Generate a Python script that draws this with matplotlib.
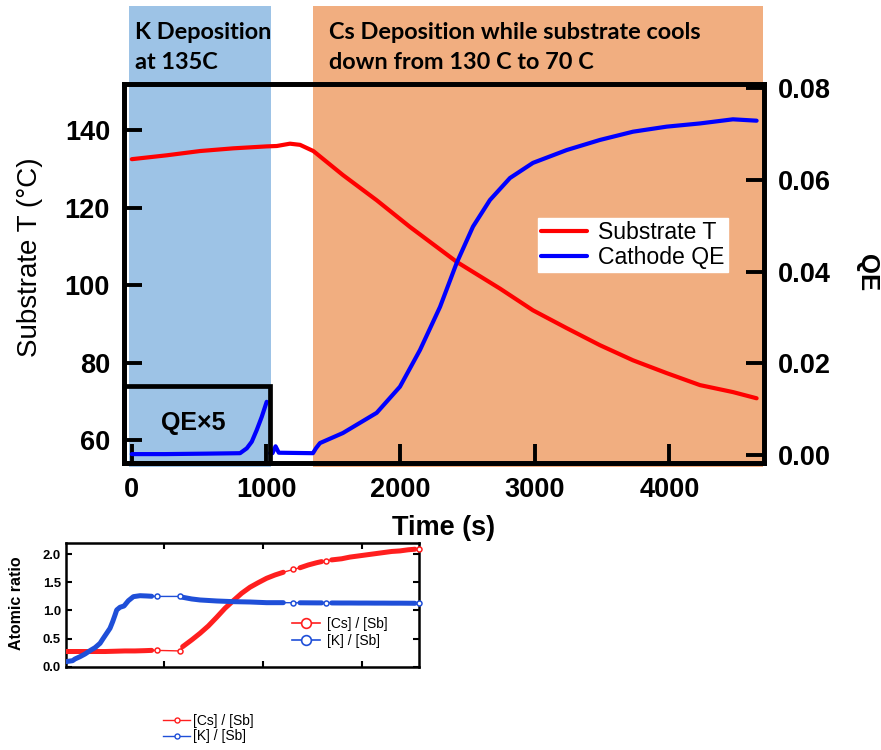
import numpy as np
import matplotlib
matplotlib.use('Agg')
import matplotlib.pyplot as plt
from matplotlib.lines import Line2D
from matplotlib.patches import Rectangle

plt.rcParams['font.family'] = ['Liberation Sans', 'DejaVu Sans']

# ---------------- main chart data ----------------
temp_time = [2, 262, 509, 757, 1005, 1080, 1178, 1253, 1352, 1572, 1823, 2071,
             2418, 2740, 2985, 3236, 3483, 3729, 3979, 4227, 4472, 4648]
temp_c = [132.5, 133.5, 134.6, 135.3, 135.8, 135.9, 136.5, 136.2, 134.6, 128.4, 121.9, 115.0,
          106.0, 99.1, 93.5, 88.9, 84.5, 80.6, 77.3, 74.2, 72.4, 70.8]

qe_time = [1030, 1048, 1071, 1095, 1349, 1372, 1401, 1572, 1823, 1996, 2145, 2294, 2418,
           2539, 2665, 2814, 2985, 3236, 3483, 3729, 3979, 4227, 4472, 4648]
qe_val = [0.0004, 0.0004, 0.0019, 0.0005, 0.0004, 0.0015, 0.0026, 0.0048, 0.0092, 0.0149,
          0.0229, 0.0323, 0.0419, 0.0498, 0.0556, 0.0604, 0.0637, 0.0665, 0.0687, 0.0705,
          0.0716, 0.0723, 0.0732, 0.0729]

# K-deposition QE shown x5 in the inset box
qe5_time = [2, 249, 554, 807, 857, 894, 931, 968, 1005]
qe5_val = [0.0002, 0.0002, 0.0003, 0.0004, 0.00146, 0.0029, 0.00545, 0.0083, 0.0116]

time_ticks = [0, 1000, 2000, 3000, 4000]
temp_ticks = [60, 80, 100, 120, 140]
qe_ticks = [0.00, 0.02, 0.04, 0.06, 0.08]

k_dep_window = (-19, 1037)
cs_dep_window = (1349, 4695)
qe5_box = (1030, 0.01504)      # right edge (time) and top (QE) of the x5 box

# ---------------- atomic ratio data ----------------
cs_x = [0, 100, 200, 300, 400, 500, 600, 700, 800, 871, 922, 1158,
        1185, 1276, 1361, 1445, 1530, 1614, 1698, 1783, 1867, 1951, 2036, 2121, 2205,
        2306, 2374, 2458, 2543, 2593, 2637,
        2695, 2796, 2880, 2965, 3049, 3134, 3218, 3303, 3387, 3471, 3539, 3583]
cs_ratio = [0.27, 0.27, 0.27, 0.27, 0.27, 0.275, 0.28, 0.28, 0.285, 0.29, 0.29, 0.28,
            0.356, 0.475, 0.594, 0.724, 0.879, 1.039, 1.174, 1.306, 1.413, 1.495, 1.573, 1.632, 1.68,
            1.73, 1.76, 1.81, 1.85, 1.87, 1.88,
            1.90, 1.92, 1.95, 1.97, 1.99, 2.01, 2.03, 2.05, 2.06, 2.08, 2.09, 2.09]

k_x = [0, 70, 94, 145, 196, 246, 297, 348, 381, 415, 449, 476, 500, 517, 550, 591,
       635, 686, 753, 821, 871, 922, 1158,
       1185, 1276, 1361, 1530, 1698, 1867, 2036, 2205,
       2306, 2374, 2458, 2543, 2593, 2637,
       2695, 2796, 2880, 2965, 3049, 3134, 3218, 3303, 3387, 3471, 3539, 3583]
k_ratio = [0.089, 0.107, 0.137, 0.178, 0.226, 0.285, 0.338, 0.416, 0.505, 0.594, 0.683,
           0.801, 0.920, 1.009, 1.057, 1.080, 1.174, 1.246, 1.263, 1.258, 1.253, 1.25, 1.25,
           1.235, 1.205, 1.187, 1.169, 1.157, 1.151, 1.139, 1.139,
           1.138, 1.137, 1.136, 1.135, 1.135, 1.135,
           1.134, 1.133, 1.133, 1.132, 1.132, 1.131, 1.131, 1.130, 1.130, 1.129, 1.128, 1.128]

ratio_ticks = [0.0, 0.5, 1.0, 1.5, 2.0]
ratio_xticks = [1000, 2000, 3000]
sparse_x = [922, 1158, 2306, 2637, 3583]   # samples drawn as separate open markers

# ---------------- styling ----------------
RED = '#ff0000'
BLUE = '#0000ff'
K_COLOR = '#9dc3e6'
CS_COLOR = '#f1ae80'
R2 = '#ff1f1f'
B2 = '#1f4fd8'

W, H = 881, 750
fig = plt.figure(figsize=(W / 100, H / 100), dpi=100)


def box(l, t, r, b):
    return [l / W, 1 - b / H, (r - l) / W, (b - t) / H]


ax = fig.add_axes(box(124, 84, 764, 463))
ax2 = ax.twinx()

ax.set_xlim(-56, 4703)
ax.set_ylim(54.1, 151.9)
ax2.set_ylim(-0.00174, 0.0809)

# deposition windows (extend above the plot frame)
ax.axvspan(*k_dep_window, ymin=-0.011, ymax=1.206, color=K_COLOR, lw=0, clip_on=False, zorder=0)
ax.axvspan(*cs_dep_window, ymin=-0.011, ymax=1.206, color=CS_COLOR, lw=0, clip_on=False, zorder=0)

l1, = ax.plot(temp_time, temp_c, color=RED, lw=3, solid_capstyle='round', zorder=3)
l2, = ax2.plot(qe_time, qe_val, color=BLUE, lw=3, solid_capstyle='round', zorder=3)
ax2.plot(qe5_time, qe5_val, color=BLUE, lw=3, solid_capstyle='round', zorder=3)

ax.set_xticks(time_ticks)
ax.set_xticklabels([str(t) for t in time_ticks])
ax.set_yticks(temp_ticks)
ax2.set_yticks(qe_ticks)
ax2.set_yticklabels(['%.2f' % v for v in qe_ticks])

for a in (ax, ax2):
    for s in a.spines.values():
        s.set_linewidth(3.4)
ax.tick_params(axis='x', direction='in', length=14, width=2.8, pad=10, labelsize=19.5)
ax.tick_params(axis='y', direction='in', length=13, width=2.8, pad=10, labelsize=19.5)
ax2.tick_params(axis='y', direction='in', length=13, width=2.8, pad=10, labelsize=19.5)
for lab in ax.get_xticklabels() + ax.get_yticklabels() + ax2.get_yticklabels():
    lab.set_fontweight('bold')

ax.set_xlabel('Time (s)', fontsize=19.5, fontweight='bold')
ax.xaxis.set_label_coords((444 - 124) / 640, (463 - 528) / 379)
ax.xaxis.label.set_va('center')
ax.set_ylabel('Substrate T (°C)', fontsize=20)
ax.yaxis.set_label_coords((30 - 124) / 640, (463 - 257) / 379)
ax.yaxis.label.set_va('center')
ax2.set_ylabel('QE', fontsize=18.5, fontweight='bold', rotation=-90)
ax2.yaxis.set_label_coords((867 - 124) / 640, (463 - 273) / 379)
ax2.yaxis.label.set_va('center')

# box marking the QE x5 region during K deposition
x0 = ax.get_xlim()[0]
qlo = ax2.get_ylim()[0]
ax2.add_patch(Rectangle((x0, qlo), qe5_box[0] - x0, qe5_box[1] - qlo, fill=False,
                        lw=3.4, ec='black', clip_on=False, zorder=4))
ax2.text((x0 + qe5_box[0]) / 2 - 30, (qlo + qe5_box[1]) / 2 + 0.0003, 'QE×5',
         ha='center', va='center', fontsize=18, fontweight='bold', zorder=5)

leg = ax2.legend([l1, l2], ['Substrate T', 'Cathode QE'], loc='upper left',
                 bbox_to_anchor=(0.647, 0.646), borderaxespad=0, fontsize=16.6,
                 frameon=True, fancybox=False, framealpha=1, facecolor='white',
                 edgecolor='white', borderpad=0.12, handlelength=2.0, handletextpad=0.5,
                 labelspacing=0.08)
leg.set_zorder(10)

fig.text(135 / W, 1 - 22 / H, 'K Deposition\nat 135C', ha='left', va='top',
         fontsize=16.9, fontweight='bold', family='Lato', linespacing=1.52)
fig.text(329 / W, 1 - 22 / H, 'Cs Deposition while substrate cools\ndown from 130 C to 70 C',
         ha='left', va='top', fontsize=16.9, fontweight='bold', family='Lato', linespacing=1.52)

# ---------------- atomic ratio panel ----------------
ax3 = fig.add_axes(box(65.7, 542.7, 419.3, 667.3))
ax3.set_xlim(0, 3583)
ax3.set_ylim(-0.011, 2.206)


def draw_series(x, y, color):
    x = np.asarray(x, float)
    y = np.asarray(y, float)
    is_sparse = np.isin(x, sparse_x)
    ax3.plot(x, y, color=color, lw=1, zorder=2)
    band = np.where(is_sparse, np.nan, y)
    ax3.plot(x, band, color=color, lw=3.6, solid_capstyle='round', zorder=3)
    ax3.plot(x[is_sparse], y[is_sparse], ls='none', marker='o', ms=3.6, mfc='white',
             mec=color, mew=1.1, zorder=4, clip_on=False)


draw_series(cs_x, cs_ratio, R2)
draw_series(k_x, k_ratio, B2)

ax3.set_xticks(ratio_xticks)
ax3.set_yticks(ratio_ticks)
ax3.set_yticklabels(['%.1f' % v for v in ratio_ticks])
ax3.tick_params(axis='both', direction='in', length=4, width=1.5, top=True, right=True,
                labelbottom=False, labelsize=9.4, pad=3.4)
for lab in ax3.get_yticklabels():
    lab.set_fontweight('bold')
for s in ax3.spines.values():
    s.set_linewidth(1.8)
ax3.set_ylabel('Atomic ratio', fontsize=11.5, fontweight='bold')
ax3.yaxis.set_label_coords((17 - 65.7) / 353.6, (667.3 - 603) / 124.6)
ax3.yaxis.label.set_va('center')

h_big = [Line2D([], [], color=R2, lw=1.2, marker='o', ms=7, mfc='white', mew=1.2),
         Line2D([], [], color=B2, lw=1.2, marker='o', ms=7, mfc='white', mew=1.2)]
ax3.legend(h_big, ['[Cs] / [Sb]', '[K] / [Sb]'], loc='upper left',
           bbox_to_anchor=(0.64, 0.405), borderaxespad=0, borderpad=0, frameon=False,
           fontsize=10, handlelength=2.0, handletextpad=0.5, labelspacing=0.2)

h_small = [Line2D([], [], color=R2, lw=1, marker='o', ms=3.6, mfc='white', mew=1),
           Line2D([], [], color=B2, lw=1, marker='o', ms=3.6, mfc='white', mew=1)]
fig.legend(h_small, ['[Cs] / [Sb]', '[K] / [Sb]'], loc='upper left',
           bbox_to_anchor=(163 / W, 1 - 714 / H), borderaxespad=0, borderpad=0,
           frameon=False, fontsize=10, handlelength=1.95, handletextpad=0.2,
           labelspacing=0.1)

fig.savefig('out.png', dpi=100)
